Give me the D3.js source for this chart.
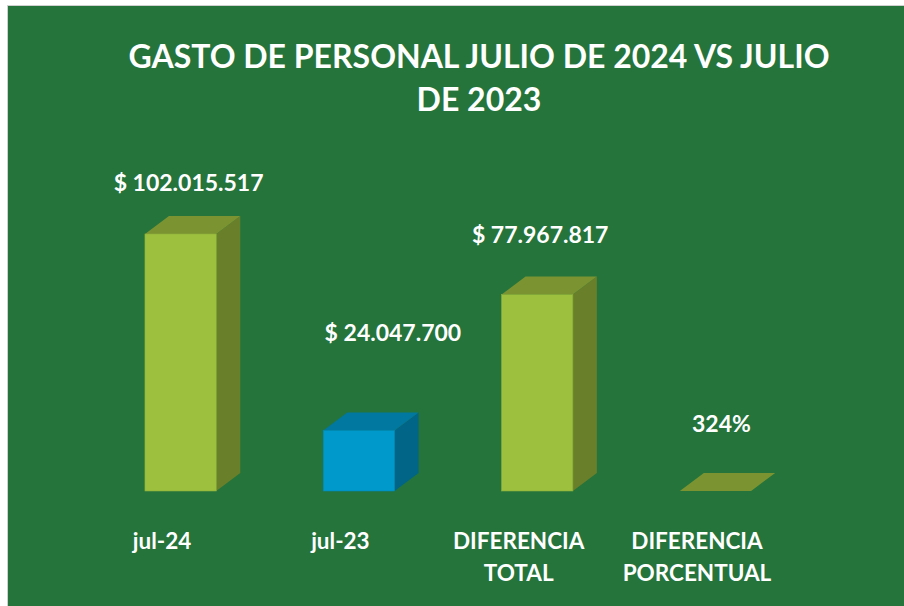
<!DOCTYPE html>
<html>
<head>
<meta charset="utf-8">
<script src="https://cdn.jsdelivr.net/npm/d3@7/dist/d3.min.js"></script>
<style>
  html, body { margin: 0; padding: 0; background: #fff; }
  svg { display: block; }
  text { font-family: Lato, "Open Sans", sans-serif; font-weight: 700; fill: #fff; }
</style>
</head>
<body>
<svg id="chart" width="904" height="606"></svg>
<script>
const categories = ["jul-24", "jul-23", "DIFERENCIA TOTAL", "DIFERENCIA PORCENTUAL"];
const values = [102015517, 24047700, 77967817, 3.24];
const valueLabels = ["$ 102.015.517", "$ 24.047.700", "$ 77.967.817", "324%"];
const titleLines = ["GASTO DE PERSONAL JULIO DE 2024 VS JULIO", "DE 2023"];

const W = 904, H = 606;
const svg = d3.select("#chart");

// chart area background
svg.append("rect").attr("x", 7.5).attr("y", 5.5).attr("width", W).attr("height", H)
  .attr("fill", "#24743c").attr("stroke", "#d0d0d0").attr("stroke-width", 1);

const x = d3.scaleBand()
  .domain(categories)
  .range([109.3, 786.8])
  .paddingInner(0.6)
  .paddingOuter(0.2);

const y = d3.scaleLinear()
  .domain([0, 102015517])
  .range([491, 234]);

const dx = 24, dy = 18;

// face colours: [front, top, side]
const greenFaces = ["#9dc13f", "#7b9431", "#6a7f2a"];
const blueFaces = ["#0099cc", "#00789f", "#006587"];
const faces = i => (i === 1 ? blueFaces : greenFaces);

const bars = svg.append("g").selectAll("g")
  .data(categories)
  .join("g");

bars.each(function(c, i) {
  const g = d3.select(this);
  const x0 = x(c), x1 = x(c) + x.bandwidth();
  const yt = y(values[i]), yb = y(0);
  const [front, top, side] = faces(i);
  // side
  g.append("polygon")
    .attr("points", [[x1, yt], [x1 + dx, yt - dy], [x1 + dx, yb - dy], [x1, yb]].join(" "))
    .attr("fill", side);
  // top
  g.append("polygon")
    .attr("points", [[x0, yt], [x0 + dx, yt - dy], [x1 + dx, yt - dy], [x1, yt]].join(" "))
    .attr("fill", top);
  // front
  if (yb - yt > 0.5) {
    g.append("rect")
      .attr("x", x0).attr("y", yt)
      .attr("width", x.bandwidth()).attr("height", yb - yt)
      .attr("fill", front)
      .attr("stroke", d3.color(front).darker(0.3)).attr("stroke-width", 0.6);
  }
});

// value labels (moved by hand in the original)
const labelShift = [[8, -52], [34, -98], [3, -61], [6, -68]];
svg.append("g").selectAll("text")
  .data(categories)
  .join("text")
  .attr("x", (c, i) => x(c) + x.bandwidth() / 2 + labelShift[i][0])
  .attr("y", (c, i) => y(values[i]) + labelShift[i][1])
  .attr("text-anchor", "middle")
  .attr("dominant-baseline", "central")
  .style("font-size", "23px")
  .text((c, i) => valueLabels[i]);

// category labels
const catWrap = { "DIFERENCIA TOTAL": ["DIFERENCIA", "TOTAL"], "DIFERENCIA PORCENTUAL": ["DIFERENCIA", "PORCENTUAL"] };
const cats = svg.append("g").selectAll("text")
  .data(categories)
  .join("text")
  .attr("text-anchor", "middle")
  .style("font-size", "22.5px");
cats.each(function(c) {
  const lines = catWrap[c] || [c];
  const cx = x(c) + x.bandwidth() / 2 - 18.5;
  d3.select(this).selectAll("tspan")
    .data(lines)
    .join("tspan")
    .attr("x", cx)
    .attr("y", (d, k) => 549 + k * 32)
    .text(d => d);
});

// title
svg.append("g").selectAll("text")
  .data(titleLines)
  .join("text")
  .attr("x", 479)
  .attr("y", (d, k) => 68 + k * 43)
  .attr("text-anchor", "middle")
  .style("font-size", "32px")
  .text(d => d);
</script>
</body>
</html>
